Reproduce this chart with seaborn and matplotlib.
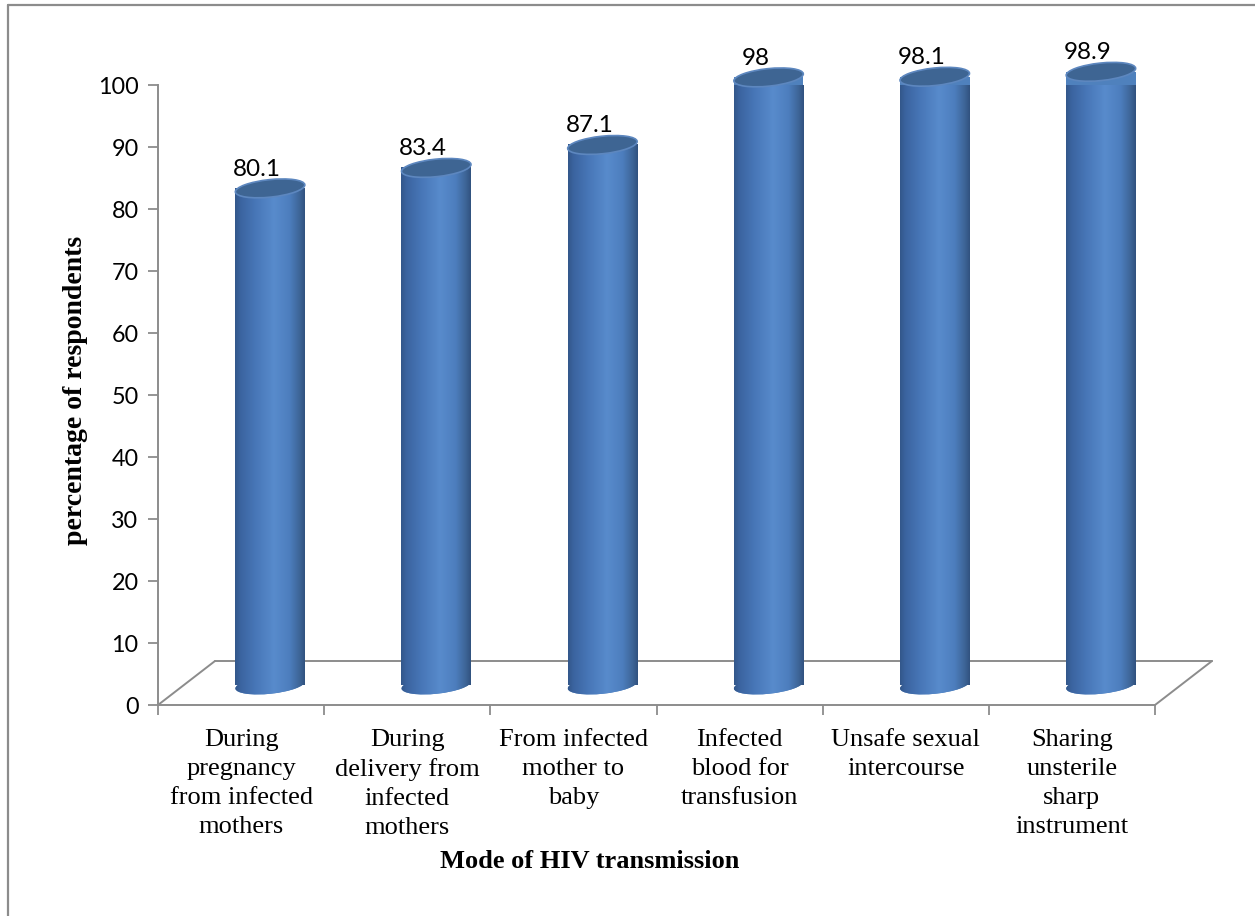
import numpy as np
import pandas as pd
import seaborn as sns
import matplotlib
matplotlib.use("Agg")
import matplotlib.pyplot as plt
from matplotlib.transforms import ScaledTranslation, IdentityTransform
from matplotlib.patches import Ellipse
from matplotlib.colors import LinearSegmentedColormap
from matplotlib.lines import Line2D

# ---------------- data ----------------
categories = [
    "During\npregnancy\nfrom infected\nmothers",
    "During\ndelivery from\ninfected\nmothers",
    "From infected\nmother to\nbaby",
    "Infected\nblood for\ntransfusion",
    "Unsafe sexual\nintercourse",
    "Sharing\nunsterile\nsharp\ninstrument",
]
values = [80.1, 83.4, 87.1, 98, 98.1, 98.9]
value_labels = ["80.1", "83.4", "87.1", "98", "98.1", "98.9"]
y_ticks = [0, 10, 20, 30, 40, 50, 60, 70, 80, 90, 100]
x_title = "Mode of HIV transmission"
y_title = "percentage of respondents"

# ---------------- style ----------------
sns.set_theme(style="white")
plt.rcParams["text.color"] = "black"
SANS = ["Lato", "DejaVu Sans"]
SERIF = ["Liberation Serif", "DejaVu Serif"]
GRAY = "#8c8c8c"

W, H = 1255, 916
fig = plt.figure(figsize=(W / 100, H / 100), dpi=100)
fig.patch.set_facecolor("white")
ax = fig.add_axes([158 / W, 211 / H, 997 / W, 620 / H])

df = pd.DataFrame({"mode": categories, "pct": values})
sns.barplot(data=df, x="mode", y="pct", color="#4f81bd", width=0.42,
            ax=ax, zorder=3, saturation=1)
ax.set_xlim(-0.5, len(categories) - 0.5)
ax.set_ylim(0, 100)
fig.canvas.draw()

# depth offset of cylinders (half of floor depth)
off = ax.transData + ScaledTranslation(0.29, 0.20, fig.dpi_scale_trans)
off_txt = ax.transData + ScaledTranslation(0.16, 0.20, fig.dpi_scale_trans)
ppu = ax.transData.transform((0, 1))[1] - ax.transData.transform((0, 0))[1]
ppx = ax.transData.transform((1, 0))[0] - ax.transData.transform((0, 0))[0]
EH_PX = 17.5
eh = EH_PX / ppu
TILT = 6

cmap = LinearSegmentedColormap.from_list(
    "cyl",
    [(0.0, "#33578a"), (0.08, "#3b64a0"), (0.3, "#4877b8"),
     (0.56, "#588bcc"), (0.78, "#4d7ebe"), (0.92, "#3e6699"), (1.0, "#31527f")])
grad = np.linspace(0, 1, 256).reshape(1, -1)

for p, lab in zip(list(ax.patches), value_labels):
    x0, w, h = p.get_x(), p.get_width(), p.get_height()
    cx = x0 + w / 2
    wpx = w * ppx
    p.set_transform(off)
    p.set_clip_on(False)
    p.set_edgecolor("none")
    # body gradient
    im = ax.imshow(grad, extent=[x0, x0 + w, 0, h], transform=off, cmap=cmap,
                   aspect="auto", interpolation="bilinear", zorder=4)
    im.set_clip_path(p)
    im.set_clip_box(None)
    # bottom rounded end (tilted by perspective)
    bc = off.transform((cx, 0))
    eb = Ellipse(tuple(bc), wpx, EH_PX, angle=TILT, transform=IdentityTransform(),
                 facecolor="#4f81bd", edgecolor="none", zorder=3, clip_on=False)
    ax.add_patch(eb)
    im2 = ax.imshow(grad, extent=[x0, x0 + w, -2 * eh, eh], transform=off,
                    cmap=cmap, aspect="auto", interpolation="bilinear", zorder=4)
    im2.set_clip_path(eb)
    im2.set_clip_box(None)
    # top cap
    tc = off.transform((cx, h))
    et = Ellipse(tuple(tc), wpx, EH_PX, angle=TILT, transform=IdentityTransform(),
                 facecolor="#3e6593", edgecolor="#5d87bf", lw=1.2, zorder=5,
                 clip_on=False)
    ax.add_patch(et)
    ax.text(cx, h + eh / 2, lab, transform=off_txt, ha="center", va="bottom",
            fontsize=17.5, family=SANS, color="black", zorder=6)

ax.set_xlim(-0.5, len(categories) - 0.5)
ax.set_ylim(0, 100)

# axes styling
for s in ["top", "right"]:
    ax.spines[s].set_visible(False)
for s in ["left", "bottom"]:
    ax.spines[s].set_color(GRAY)
    ax.spines[s].set_linewidth(1.4)
ax.grid(False)
ax.set_yticks(y_ticks)
ax.set_yticklabels([str(v) for v in y_ticks], family=SANS, fontsize=16.8)
ax.tick_params(axis="y", direction="out", length=7, width=1.3, color=GRAY,
               pad=7, left=True, labelcolor="black")
ax.set_xticks(range(len(categories)))
ax.set_xticklabels(categories, family=SERIF, fontsize=19, linespacing=1.42,
                   multialignment="center")
ax.tick_params(axis="x", which="major", length=0, pad=17, labelcolor="black")
ax.set_xticks(np.arange(-0.5, len(categories), 1.0), minor=True)
ax.tick_params(axis="x", which="minor", direction="out", length=7, width=1.3,
               color=GRAY, bottom=True)
ax.set_xlabel("")
ax.set_ylabel("")

# 3D floor lines
fl = ax.transData.transform((-0.5, 0))
fr = ax.transData.transform((len(categories) - 0.5, 0))
dx, dy = 57, 44
bl = (fl[0] + dx, fl[1] + dy)
br = (fr[0] + dx, fr[1] + dy)
for (a, b) in [(fl, bl), (bl, br), (br, fr)]:
    ln = Line2D([a[0], b[0]], [a[1], b[1]], transform=IdentityTransform(),
                color=GRAY, lw=1.4, zorder=1, clip_on=False)
    ax.add_line(ln)

# axis titles
fig.text(590 / W, 1 - 862 / H, x_title, ha="center", va="center",
         family=SERIF, fontsize=19, fontweight="bold", color="black")
fig.text(76 / W, 1 - 390 / H, y_title, ha="center", va="center", rotation=90,
         family=SERIF, fontsize=20, fontweight="bold", color="black")

# outer frame (left and top edges)
fig.add_artist(Line2D([7.5 / W, 7.5 / W], [0, 1 - 5 / H], color=GRAY, lw=1.6,
                      transform=fig.transFigure))
fig.add_artist(Line2D([7.5 / W, 1], [1 - 5 / H, 1 - 5 / H], color=GRAY, lw=1.6,
                      transform=fig.transFigure))

fig.savefig("out.png", dpi=100)
